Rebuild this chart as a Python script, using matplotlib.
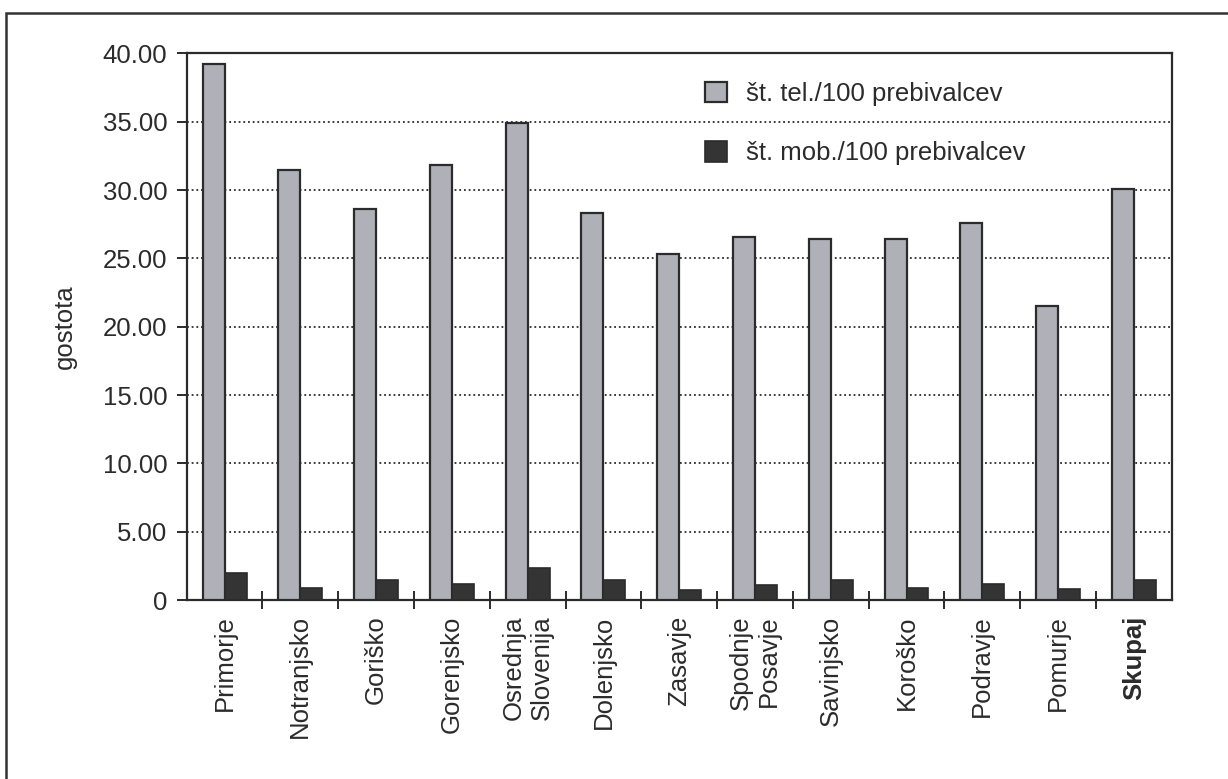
import matplotlib
matplotlib.use("Agg")
import matplotlib.pyplot as plt
from matplotlib.patches import Rectangle
import numpy as np

plt.rcParams['font.family'] = ['Liberation Sans', 'DejaVu Sans']

regions = ["Primorje", "Notranjsko", "Goriško", "Gorenjsko", "Osrednja\nSlovenija",
           "Dolenjsko", "Zasavje", "Spodnje\nPosavje", "Savinjsko", "Koroško",
           "Podravje", "Pomurje", "Skupaj"]
tel_per_100 = [39.2, 31.5, 28.6, 31.8, 34.9, 28.3, 25.3, 26.6, 26.4, 26.4, 27.6, 21.5, 30.1]
mob_per_100 = [2.0, 0.85, 1.5, 1.2, 2.35, 1.45, 0.7, 1.1, 1.45, 0.85, 1.2, 0.8, 1.5]
yticks = [0, 5, 10, 15, 20, 25, 30, 35, 40]
ytick_labels = ["0", "5.00", "10.00", "15.00", "20.00", "25.00", "30.00", "35.00", "40.00"]
series_labels = ["št. tel./100 prebivalcev", "št. mob./100 prebivalcev"]

W, H = 1228, 779
fig = plt.figure(figsize=(W / 100, H / 100), dpi=100)
fig.patch.set_facecolor("white")
ax = fig.add_axes([186.7 / W, 1 - 600 / H, (1171.7 - 186.7) / W, (600 - 53.4) / H])

ink = "#2b2b2b"
fs = 18.5
x = np.arange(len(regions))
bw = 0.29
ax.bar(x - bw / 2, tel_per_100, bw, color="#b0b0b8", edgecolor=ink, linewidth=1.6,
       label=series_labels[0], zorder=3)
ax.bar(x + bw / 2, mob_per_100, bw, color="#343434", edgecolor=ink, linewidth=1.2,
       label=series_labels[1], zorder=3)

ax.set_xlim(-0.5, len(regions) - 0.5)
ax.set_ylim(0, 40)
ax.set_yticks(yticks)
ax.set_yticklabels(ytick_labels, fontsize=fs, color=ink)
ax.tick_params(axis="y", direction="out", length=7, width=1.4, color=ink, pad=7)

# category labels at centres, tick marks at the boundaries between groups
ax.set_xticks(x)
ax.set_xticklabels(regions, rotation=90, fontsize=fs, color=ink, va="top", ha="center",
                   multialignment="right")
ax.tick_params(axis="x", which="major", length=0, pad=11)
ax.set_xticks(x[:-1] + 0.5, minor=True)
ax.tick_params(axis="x", which="minor", direction="inout", length=13, width=1.4, color=ink)
for lbl in ax.get_xticklabels():
    if lbl.get_text() == "Skupaj":
        lbl.set_fontweight("bold")

for yv in yticks[1:-1]:
    ax.axhline(yv, color=ink, linestyle=(0, (1, 1.6)), linewidth=1.3, zorder=1)

for s in ax.spines.values():
    s.set_color(ink)
    s.set_linewidth(1.6)

fig.text(65 / W, 1 - 327 / H, "gostota", rotation=90, ha="center", va="center",
         fontsize=fs, color=ink)

ax.legend(loc="center left", bbox_to_anchor=(705 / W, 1 - 123.5 / H),
          bbox_transform=fig.transFigure, frameon=False, fontsize=fs,
          handlelength=0.85, handleheight=0.85, handletextpad=0.75,
          labelspacing=1.38, borderpad=0, borderaxespad=0, labelcolor=ink)

# page frame surrounding the chart
fig.add_artist(Rectangle((6 / W, -0.1), 1.2, 1 - 13 / H + 0.1, transform=fig.transFigure,
                         fill=False, edgecolor="#333333", linewidth=1.8, clip_on=False))

fig.savefig("out.png", dpi=100)
